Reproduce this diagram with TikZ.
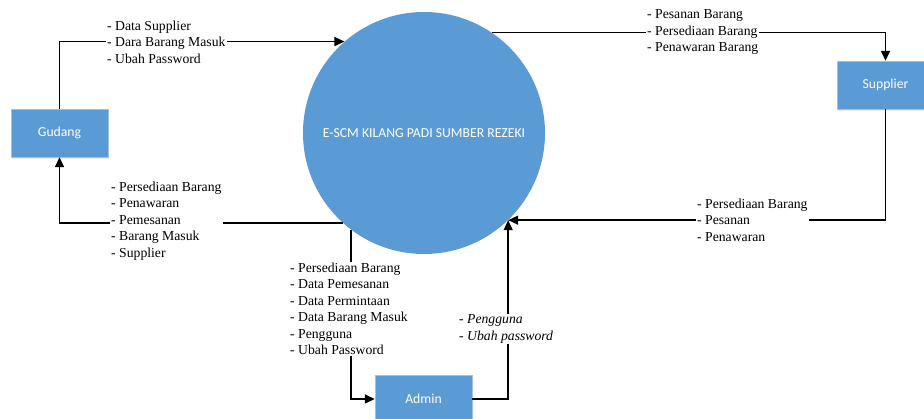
\documentclass[tikz,border=0pt]{standalone}
\usepackage{fontspec}
\setmainfont{Liberation Serif}
\newfontfamily\boxfont{Carlito}
\usetikzlibrary{positioning,shapes,shadows,arrows.meta}
\definecolor{dfdblue}{RGB}{91,155,213}
\definecolor{dfdedge}{RGB}{160,192,228}

\begin{document}
\begin{tikzpicture}[x=1pt, y=-1pt,
    entity/.style={draw=dfdedge, fill=dfdblue, rectangle, minimum width=97pt, minimum height=48pt, text=white, font=\boxfont\fontsize{13.7}{16}\selectfont, drop shadow={opacity=0.12, shadow xshift=1pt, shadow yshift=-2pt}},
    process/.style={fill=dfdblue, circle, minimum size=242pt, inner sep=0pt, text=white, font=\boxfont\fontsize{13.7}{16}\selectfont},
    flow/.style={align=left, fill=white, inner sep=1pt, anchor=west, font=\fontsize{13.7}{16.5}\selectfont},
    flowit/.style={flow, font=\fontsize{13.7}{16.5}\selectfont\itshape},
    arrow/.style={-{Triangle[length=10pt,width=9pt]}, line width=1.5pt}
]
\useasboundingbox (0,0) rectangle (924,419);

% Process
\node[process] (escm) at (424,133) {E-SCM KILANG PADI SUMBER REZEKI};

% Entities
\node[entity] (gudang) at (59.5,133) {Gudang};
\node[entity] (supplier) at (885.5,85) {Supplier};
\node[entity] (admin) at (423.5,399) {Admin};

% Arrows
\draw[arrow] (gudang.north) |- (escm.131);
\draw[arrow] (escm.56) -| (supplier.north);
\draw[arrow] (supplier.south) |- (escm.-46);
\draw[arrow] (escm.-132) -| (gudang.south);
\draw[arrow] (escm.-127) |- (admin.west);
\draw[arrow] (admin.east) -| (escm.-46);

% Flow labels
\node[flow] (gudangin) at (106,42) {- Data Supplier\\- Dara Barang Masuk\\- Ubah Password};
\node[flow] (supplierout) at (646,32) {- Pesanan Barang\\- Persediaan Barang\\- Penawaran Barang};
\node[flow] (supplierin) at (696,220) {- Persediaan Barang\\- Pesanan\\- Penawaran};
\node[flow] (gudangout) at (110,221) {- Persediaan Barang\\- Penawaran\\- Pemesanan\\- Barang Masuk\\- Supplier};
\node[flow] (adminin) at (289,309) {- Persediaan Barang\\- Data Pemesanan\\- Data Permintaan\\- Data Barang Masuk\\- Pengguna\\- Ubah Password};
\node[flowit] (adminout) at (458,329) {- Pengguna\\- Ubah password};

\end{tikzpicture}
\end{document}
